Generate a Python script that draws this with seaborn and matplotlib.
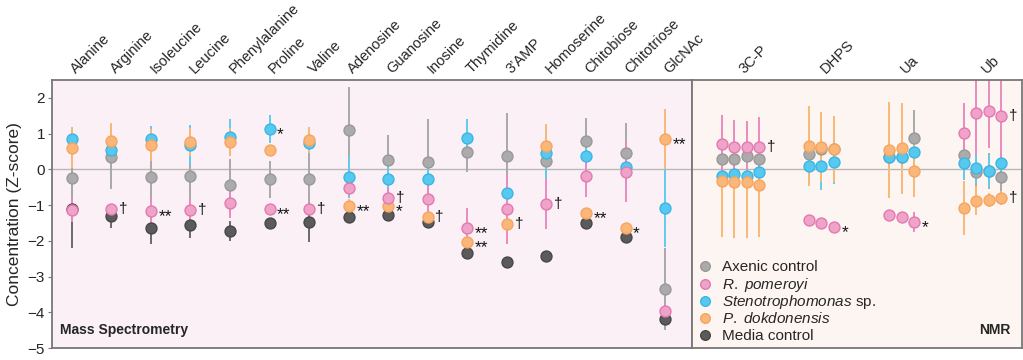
import numpy as np
import pandas as pd
import matplotlib
matplotlib.use("Agg")
import matplotlib.pyplot as plt
import matplotlib.transforms as mtransforms
import seaborn as sns

# ---- data: mass spectrometry (z-score mean and error per metabolite) ----
ms_metabolites = ["Alanine", "Arginine", "Isoleucine", "Leucine", "Phenylalanine",
                  "Proline", "Valine", "Adenosine", "Guanosine", "Inosine",
                  "Thymidine", "3\u2019AMP", "Homoserine", "Chitobiose",
                  "Chitotriose", "GlcNAc"]

axenic_ms = [-0.25, 0.35, -0.22, -0.18, -0.45, -0.28, -0.27, 1.10, 0.26, 0.21,
             0.48, 0.38, 0.23, 0.80, 0.45, -3.36]
axenic_ms_err = [0.65, 0.9, 0.7, 0.7, 0.74, 0.51, 0.75, 1.21, 0.7, 1.19,
                 0.55, 1.2, 0.5, 0.63, 0.84, 1.15]
pomeroyi_ms = [-1.14, -1.11, -1.17, -1.14, -0.95, -1.12, -1.11, -0.51, -0.79, -0.84,
               -1.64, -1.12, -0.98, -0.20, -0.07, -3.97]
pomeroyi_ms_err = [0.33, 0.15, 0.36, 0.33, 0.4, 0.12, 0.15, 0.2, 0.3, 0.45,
                   0.55, 0.98, 0.7, 0.58, 0.84, 0.1]
steno_ms = [0.84, 0.54, 0.84, 0.68, 0.91, 1.13, 0.73, -0.21, -0.27, -0.27,
            0.89, -0.67, 0.47, 0.37, 0.07, -1.08]
steno_ms_err = [0.35, 0.3, 0.38, 0.56, 0.5, 0.39, 0.3, 0.58, 0.45, 0.3,
                0.51, 0.5, 0.72, 0.5, 0.3, 1.1]
dokdo_ms = [0.61, 0.80, 0.68, 0.76, 0.76, 0.54, 0.82, -1.02, -1.02, -1.33,
            -2.04, -1.53, 0.66, -1.21, -1.64, 0.84]
dokdo_ms_err = [0.58, 0.49, 0.45, 0.4, 0.39, 0.1, 0.36, 0.2, 0.15, 0.15,
                0.1, 0.15, 0.61, 0.1, 0.1, 0.84]
media_ms = [-1.10, -1.30, -1.65, -1.56, -1.72, -1.51, -1.47, -1.34, -1.28, -1.47,
            -2.35, -2.60, -2.42, -1.49, -1.89, -4.18]
media_ms_err = [1.1, 0.33, 0.45, 0.37, 0.28, 0.1, 0.56, 0.1, 0.1, 0.1,
                0.1, 0.1, 0.1, 0.1, 0.1, 0.1]

# ---- data: NMR (several peaks per compound) ----
nmr_compounds = ["3C-P", "DHPS", "Ua", "Ub"]
nmr_peaks = [4, 3, 3, 4]

axenic_nmr = [0.29, 0.29, 0.36, 0.29, 0.43, 0.57, 0.57, 0.34, 0.34, 0.87, 0.41, -0.08, -0.05, -0.22]
axenic_nmr_err = [0.3, 0.3, 0.3, 0.3, 0.3, 0.3, 0.3, 0.3, 0.3, 0.79, 0.4, 0.5, 0.5, 0.45]
pomeroyi_nmr = [0.70, 0.62, 0.63, 0.62, -1.42, -1.50, -1.61, -1.27, -1.34, -1.47, 1.03, 1.57, 1.64, 1.49]
pomeroyi_nmr_err = [0.82, 0.76, 0.72, 0.84, 0.05, 0.05, 0.05, 0.05, 0.05, 0.28, 0.82, 1.17, 1.05, 1.46]
steno_nmr = [-0.18, -0.14, -0.18, -0.07, 0.10, 0.10, 0.21, 0.34, 0.34, 0.48, 0.19, 0.03, -0.05, 0.17]
steno_nmr_err = [0.2, 0.2, 0.2, 0.2, 0.4, 0.68, 0.62, 0.3, 0.3, 0.5, 0.5, 0.4, 0.45, 0.25]
dokdo_nmr = [-0.32, -0.36, -0.36, -0.44, 0.65, 0.62, 0.57, 0.54, 0.59, -0.04, -1.09, -0.88, -0.86, -0.81]
dokdo_nmr_err = [1.57, 1.57, 1.57, 1.45, 1.13, 0.98, 0.92, 1.35, 1.28, 0.73, 0.75, 0.4, 0.2, 0.2]

# significance marks: (index, group, mark)
ms_marks = [(1, "pom", "\u2020"), (2, "pom", "**"), (3, "pom", "\u2020"), (5, "steno", "*"),
            (5, "pom", "**"), (6, "pom", "\u2020"), (7, "dokdo", "**"), (8, "pom", "\u2020"),
            (8, "dokdo", "*"), (9, "dokdo", "\u2020"), (10, "pom", "**"), (10, "dokdo", "**"),
            (11, "dokdo", "\u2020"), (12, "pom", "\u2020"), (13, "dokdo", "**"),
            (14, "dokdo", "*"), (15, "dokdo", "**")]
nmr_marks = [(3, "pom", "\u2020"), (6, "pom", "*"), (9, "pom", "*"),
             (13, "pom", "\u2020"), (13, "dokdo", "\u2020")]

# ---- styling ----
sns.set_style("ticks")
plt.rcParams["font.family"] = ["Liberation Sans", "DejaVu Sans"]
plt.rcParams["mathtext.fontset"] = "custom"
plt.rcParams["mathtext.rm"] = "Liberation Sans"
plt.rcParams["mathtext.it"] = "Liberation Sans:italic"

groups = {
    "media": ("Media control", "#5b5b5b", "#474747", "#6a6a6a"),
    "axenic": ("Axenic control", "#ababab", "#999999", "#a9a9a9"),
    "steno": (r"$\it{Stenotrophomonas}$ sp.", "#56c9f0", "#3cb5e3", "#5fcbef"),
    "dokdo": (r"$\it{P.\ dokdonensis}$", "#fbb679", "#f6a55e", "#f9b878"),
    "pom": (r"$\it{R.\ pomeroyi}$", "#f0a3c9", "#e279b1", "#e98cbd"),
}

ms_x = np.arange(len(ms_metabolites))
nmr_x = []
for i, n in enumerate(nmr_peaks):
    for k in range(n):
        nmr_x.append(i + (k - (n - 1) / 2) * 0.155)
nmr_x = np.array(nmr_x)

ms_df = pd.concat([
    pd.DataFrame({"x": ms_x, "z": axenic_ms, "err": axenic_ms_err, "g": "axenic"}),
    pd.DataFrame({"x": ms_x, "z": pomeroyi_ms, "err": pomeroyi_ms_err, "g": "pom"}),
    pd.DataFrame({"x": ms_x, "z": steno_ms, "err": steno_ms_err, "g": "steno"}),
    pd.DataFrame({"x": ms_x, "z": dokdo_ms, "err": dokdo_ms_err, "g": "dokdo"}),
    pd.DataFrame({"x": ms_x, "z": media_ms, "err": media_ms_err, "g": "media"}),
])
nmr_df = pd.concat([
    pd.DataFrame({"x": nmr_x, "z": axenic_nmr, "err": axenic_nmr_err, "g": "axenic"}),
    pd.DataFrame({"x": nmr_x, "z": pomeroyi_nmr, "err": pomeroyi_nmr_err, "g": "pom"}),
    pd.DataFrame({"x": nmr_x, "z": steno_nmr, "err": steno_nmr_err, "g": "steno"}),
    pd.DataFrame({"x": nmr_x, "z": dokdo_nmr, "err": dokdo_nmr_err, "g": "dokdo"}),
])


def draw(ax, df, marks):
    ax.axhline(0, color="#b8b8b8", lw=1, zorder=0.5)
    for g in groups:
        sub = df[df["g"] == g]
        if sub.empty:
            continue
        _, face, edge, errc = groups[g]
        ax.vlines(sub["x"], sub["z"] - sub["err"], sub["z"] + sub["err"],
                  color=errc, lw=1.4, zorder=1)
    for g in groups:
        sub = df[df["g"] == g]
        if sub.empty:
            continue
        _, face, edge, errc = groups[g]
        sns.scatterplot(data=sub, x="x", y="z", color=face, edgecolor=edge,
                        s=62, linewidth=1, ax=ax, zorder=3, legend=False)
    for idx, g, m in marks:
        row = df[df["g"] == g].iloc[idx]
        star = "*" in m
        ax.annotate(m, (row["x"], row["z"]), xytext=(5.5, -4 if star else 0),
                    textcoords="offset points", ha="left", va="center",
                    fontsize=12.5 if star else 11, color="#111111")


fig = plt.figure(figsize=(10.23, 3.6), dpi=100)
ax1 = fig.add_axes([52 / 1023, 12 / 360, 640 / 1023, 268 / 360])
ax2 = fig.add_axes([692 / 1023, 12 / 360, 330 / 1023, 268 / 360], sharey=ax1)
ax1.set_facecolor("#fbf0f6")
ax2.set_facecolor("#fdf5f2")

draw(ax1, ms_df, ms_marks)
draw(ax2, nmr_df, nmr_marks)

ax1.set_xlim(-0.5, 15.68)
ax2.set_xlim(-0.6, 3.49)
ax1.set_ylim(-5, 2.5)
ax1.set_yticks(range(-5, 3))
ax1.tick_params(axis="y", labelsize=11, length=3, color="#777777", pad=2)
ax2.tick_params(axis="y", left=False, labelleft=False)

# category names along the top, rotated
lab_offset = mtransforms.ScaledTranslation(0.045, 0.06, fig.dpi_scale_trans)
for ax, labels in ((ax1, ms_metabolites), (ax2, nmr_compounds)):
    ax.set_xticks([])
    ax.set_xlabel("")
    ax.set_ylabel("")
    for i, lab in enumerate(labels):
        ax.text(i, 1, lab, transform=ax.get_xaxis_transform() + lab_offset,
                rotation=45, rotation_mode="anchor", ha="left", va="baseline",
                fontsize=10.5, clip_on=False)
    for s in ax.spines.values():
        s.set_visible(True)
        s.set_color("#777777")
        s.set_linewidth(1.3)

ax1.set_ylabel("Concentration (Z-score)", fontsize=12.5, labelpad=4)

ax1.text(0.0125, 0.067, "Mass Spectrometry", transform=ax1.transAxes,
         fontsize=10, fontweight="bold", va="center", ha="left")
ax2.text(0.964, 0.067, "NMR", transform=ax2.transAxes,
         fontsize=10, fontweight="bold", va="center", ha="right")

# legend rows drawn by hand so that italic and plain labels line up
legend_order = ["axenic", "pom", "steno", "dokdo", "media"]
row_y = np.array([0.306, 0.239, 0.175, 0.112, 0.049])
for g, yy in zip(legend_order, row_y):
    name, face, edge, _ = groups[g]
    ax2.scatter([0.039], [yy], s=48, color=face, edgecolor=edge, linewidth=1,
                transform=ax2.transAxes, clip_on=False, zorder=4)
    ax2.text(0.091, yy - 0.02, name, transform=ax2.transAxes, fontsize=11,
             va="baseline", ha="left")

fig.savefig("out.png", dpi=100)
